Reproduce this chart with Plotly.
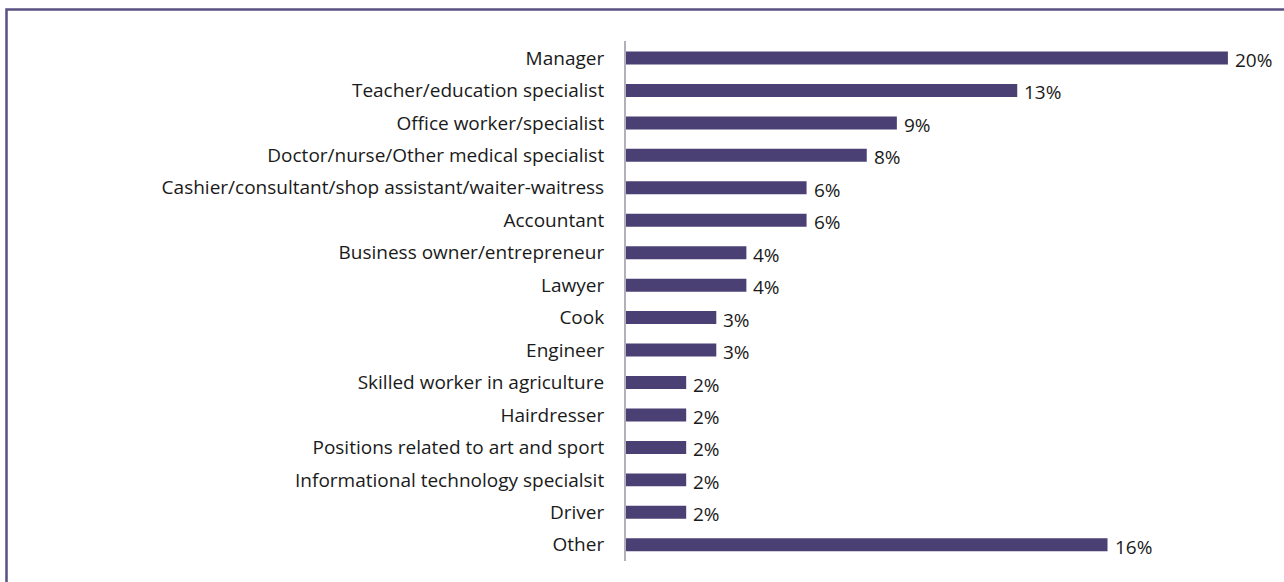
import plotly.graph_objects as go

categories = [
    "Manager",
    "Teacher/education specialist",
    "Office worker/specialist",
    "Doctor/nurse/Other medical specialist",
    "Cashier/consultant/shop assistant/waiter-waitress",
    "Accountant",
    "Business owner/entrepreneur",
    "Lawyer",
    "Cook",
    "Engineer",
    "Skilled worker in agriculture",
    "Hairdresser",
    "Positions related to art and sport",
    "Informational technology specialsit",
    "Driver",
    "Other",
]
values = [20, 13, 9, 8, 6, 6, 4, 4, 3, 3, 2, 2, 2, 2, 2, 16]
value_labels = [f"{v}%" for v in values]

BAR_COLOR = "#4b4073"
FONT = "Open Sans"
FS = 19

# layout geometry (pixels)
W, H = 1284, 582
ML, MT = 626, 41
PW, PH = 632, 520
MR = W - ML - PW
MB = H - MT - PH

fig = go.Figure()
fig.add_trace(go.Bar(
    x=values,
    y=categories,
    orientation="h",
    width=0.4,
    marker=dict(color=BAR_COLOR, line=dict(width=0)),
    hoverinfo="x+y",
))

for c, v, t in zip(categories, values, value_labels):
    fig.add_annotation(
        x=v, y=c, text=t, showarrow=False,
        xanchor="left", yanchor="middle", xshift=5, yshift=-2,
        font=dict(family=FONT, size=FS, color="#1a1a1a"),
    )

def px_x(p):
    return (p - ML) / PW

def px_y(p):
    return 1 - (p - MT) / PH

# frame (top and left edges visible)
fig.add_shape(
    type="rect", xref="paper", yref="paper",
    x0=px_x(6.5), x1=px_x(1300), y0=px_y(600), y1=px_y(9.5),
    line=dict(color="#5a5082", width=2.5), fillcolor="rgba(0,0,0,0)",
    layer="below",
)

fig.update_layout(
    width=W, height=H,
    margin=dict(l=ML, r=MR, t=MT, b=MB, pad=0),
    paper_bgcolor="white",
    plot_bgcolor="white",
    showlegend=False,
    font=dict(family=FONT, size=FS, color="#1a1a1a"),
    xaxis=dict(range=[0, 21], visible=False, fixedrange=True),
    yaxis=dict(
        autorange="reversed",
        showline=True, linecolor="#b3b0bc", linewidth=2,
        showgrid=False, zeroline=False,
        ticks="", ticklabelstandoff=16,
        tickfont=dict(family=FONT, size=FS, color="#1a1a1a"),
    ),
)

fig.write_html(
    "out.html",
    config={"displayModeBar": False},
    post_script="document.body.style.margin='0';document.body.style.padding='0';",
)
